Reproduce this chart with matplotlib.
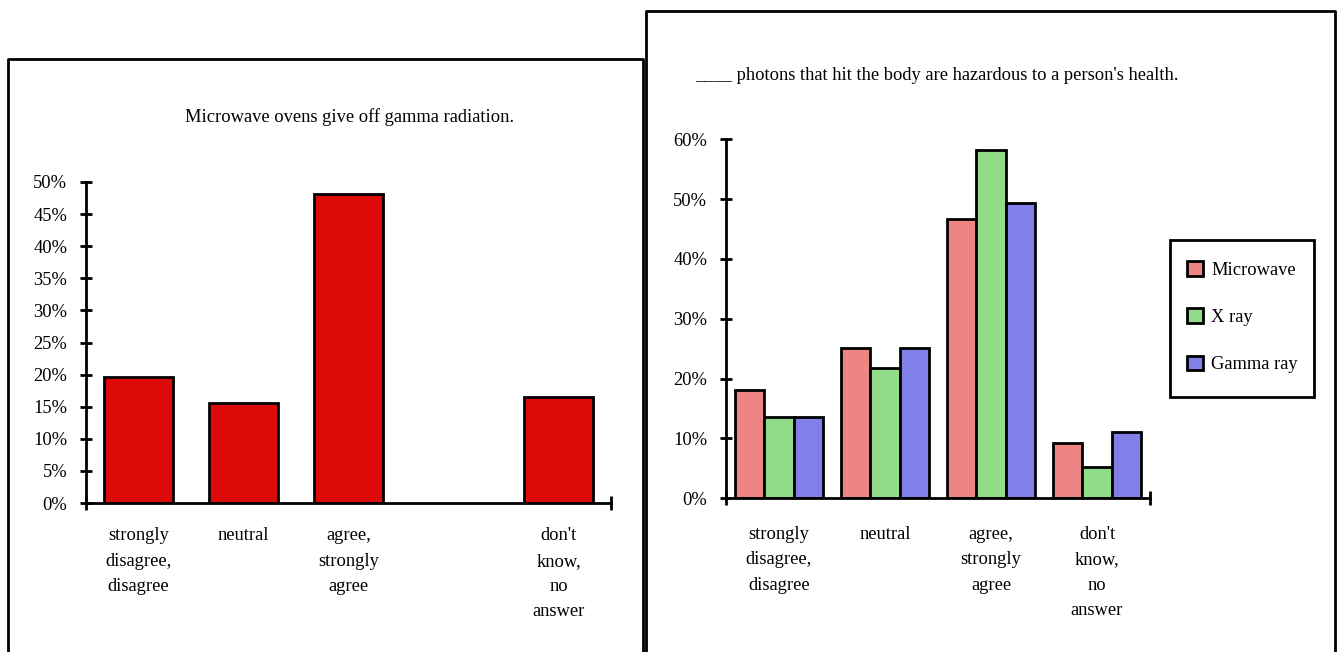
import matplotlib.pyplot as plt
from matplotlib.lines import Line2D
from matplotlib.patches import Patch, Rectangle
import numpy as np

plt.rcParams["font.family"] = ["Liberation Serif", "DejaVu Serif"]
plt.rcParams["font.size"] = 13.3

# survey answers, share of respondents
categories = ["strongly\ndisagree,\ndisagree", "neutral", "agree,\nstrongly\nagree", "", "don't\nknow,\nno\nanswer"]
oven_gamma = [0.197, 0.156, 0.481, np.nan, 0.165]

right_categories = ["strongly\ndisagree,\ndisagree", "neutral", "agree,\nstrongly\nagree", "don't\nknow,\nno\nanswer"]
series_names = ["Microwave", "X ray", "Gamma ray"]
microwave = [0.181, 0.252, 0.467, 0.092]
x_ray = [0.136, 0.217, 0.582, 0.052]
gamma_ray = [0.136, 0.252, 0.493, 0.110]

colors = ["#EE8585", "#90DC88", "#8080E8"]

W, H = 1337, 652
fig = plt.figure(figsize=(W / 100, H / 100), dpi=100)


def px_axes(x0, x1, y_top, y_bottom):
    return fig.add_axes([x0 / W, 1 - y_bottom / H, (x1 - x0) / W, (y_bottom - y_top) / H])


def style_axes(ax, n, top, step, label_pad):
    for s in ["top", "right"]:
        ax.spines[s].set_visible(False)
    ax.spines["left"].set_linewidth(2)
    ax.spines["bottom"].set_linewidth(2)
    ax.set_xlim(-0.5, n - 0.5)
    ax.set_ylim(0, top)
    ax.set_yticks(np.arange(0, top + 1e-9, step))
    ax.set_yticklabels([f"{v * 100:.0f}%" for v in np.arange(0, top + 1e-9, step)])
    ax.tick_params(axis="y", direction="inout", length=8, width=2, pad=9.5)
    ax.tick_params(axis="x", which="major", length=0, pad=label_pad)
    ax.set_xticks([-0.5, n - 0.5], minor=True)
    ax.tick_params(axis="x", which="minor", direction="inout", length=10, width=2)
    for lbl in ax.get_xticklabels():
        lbl.set_linespacing(1.64)
        lbl.set_verticalalignment("top")


# frames around the two panels
for xs, ys in [([8, 8, 643, 643], [H + 5, 59, 59, H + 5]),
               ([646, 646, 1335, 1335], [H + 5, 11, 11, H + 5])]:
    fig.add_artist(Line2D([x / W for x in xs], [1 - y / H for y in ys],
                          color="black", linewidth=2, transform=fig.transFigure))

# left panel: single series
ax1 = px_axes(86, 611, 182, 503)
ax1.bar(np.arange(len(categories)), oven_gamma, width=0.65, color="#DD0A0A",
        edgecolor="black", linewidth=2)
ax1.set_xticks(np.arange(len(categories)))
ax1.set_xticklabels(categories)
style_axes(ax1, len(categories), 0.5, 0.05, 17.5)
fig.text(349.5 / W, 1 - 117 / H, "Microwave ovens give off gamma radiation.",
         ha="center", va="center")

# right panel: grouped bars
ax2 = px_axes(726, 1150, 139.3, 498.3)
x = np.arange(len(right_categories))
bw = 0.277
for i, (vals, name) in enumerate(zip([microwave, x_ray, gamma_ray], series_names)):
    ax2.bar(x + (i - 1) * bw, vals, width=bw, color=colors[i], edgecolor="black",
            linewidth=2, label=name)
ax2.set_xticks(x)
ax2.set_xticklabels(right_categories)
style_axes(ax2, len(right_categories), 0.6, 0.1, 20)
fig.text(937 / W, 1 - 75 / H,
         "____ photons that hit the body are hazardous to a person's health.",
         ha="center", va="center")

# legend entries plus a separate square box around them
fig.add_artist(Rectangle((1170 / W, 1 - 397 / H), 144 / W, 157 / H,
                         transform=fig.transFigure, facecolor="white",
                         edgecolor="black", linewidth=2))
handles = [Patch(facecolor=c, edgecolor="black", linewidth=2) for c in colors]
leg = fig.legend(handles, series_names, loc="upper left",
                 bbox_to_anchor=(1187 / W, 1 - 261 / H), borderaxespad=0,
                 frameon=False, handlelength=0.85, handleheight=0.85,
                 handletextpad=0.45, labelspacing=1.6, borderpad=0)

fig.savefig("out.png", dpi=100)
